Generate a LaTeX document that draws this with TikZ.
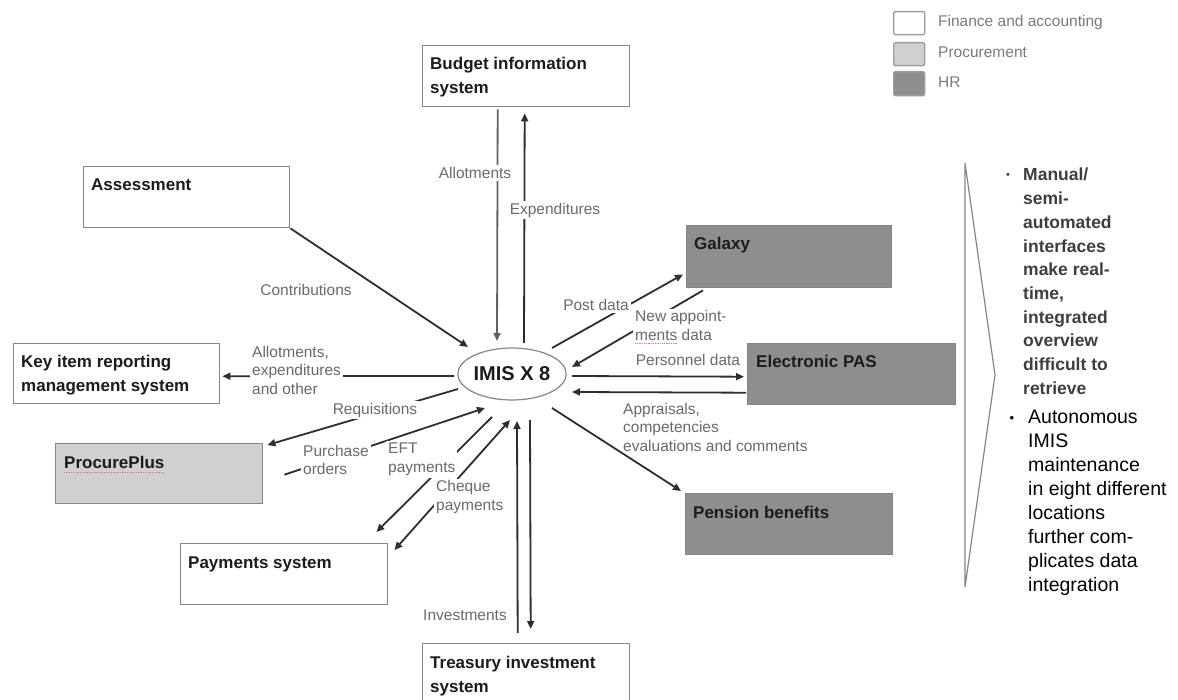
\documentclass[tikz,border=0pt]{standalone}
\usepackage{fontspec}
\setmainfont{Liberation Sans}
\usetikzlibrary{arrows.meta,shapes.geometric,calc}
\definecolor{boxline}{HTML}{858585}
\definecolor{hrgray}{HTML}{8E8E8E}
\definecolor{procgray}{HTML}{D0D0D0}
\definecolor{boxtext}{HTML}{1C1C1C}
\definecolor{labgray}{HTML}{6A6A6A}
\definecolor{arrcol}{HTML}{2E2E2E}
\definecolor{leggray}{HTML}{7A7A7A}
\definecolor{spellred}{HTML}{E07A7A}
\newcommand{\toplines}[1]{\begin{tabular}[t]{@{}l@{}}#1\end{tabular}}
\begin{document}
\begin{tikzpicture}[x=1pt,y=-1pt,
  box/.style={draw=boxline, line width=1.4pt, minimum width=207pt, minimum height=61pt, anchor=north west, inner sep=0pt},
  boxtxt/.style={anchor=base west, inner sep=0pt, font=\fontsize{17}{24}\selectfont\bfseries, text=boxtext},
  elab/.style={fill=white, inner sep=2pt, font=\fontsize{15.5}{18.5}\selectfont, text=labgray, align=left},
  arr/.style={draw=arrcol, line width=1.8pt, -{Triangle[length=8pt,width=7pt]}},
  arrboth/.style={draw=arrcol, line width=1.8pt, {Triangle[length=8pt,width=7pt]}-{Triangle[length=8pt,width=7pt]}},
  legbox/.style={draw=boxline!80, line width=1.4pt, rounded corners=2pt, minimum width=31pt, minimum height=23pt, anchor=north west, inner sep=0pt},
  legtxt/.style={anchor=west, inner sep=0pt, font=\fontsize{15.5}{18}\selectfont, text=leggray}
]
\useasboundingbox (0,0) rectangle (1178,700);
\fill[white] (0,0) rectangle (1178,700);

% legend
\node[legbox, fill=white] (lg1) at (893,11) {};
\node[legbox, fill=procgray] (lg2) at (893,42) {};
\node[legbox, fill=hrgray, minimum height=24pt] (lg3) at (893,71) {};
\node[legtxt] (lg1t) at (938,22) {Finance and accounting};
\node[legtxt] (lg2t) at (938,52) {Procurement};
\node[legtxt] (lg3t) at (938,82) {HR};

% boxes
\node[box, fill=white] (bis) at (422,45) {};
\node[boxtxt] (bist) at ($(bis.north west)+(8,25)$) {\toplines{Budget information\\system}};
\node[box, fill=white, minimum width=206pt] (assess) at (83,166) {};
\node[boxtxt] (assesst) at ($(assess.north west)+(8,25)$) {Assessment};
\node[box, fill=white, minimum width=206pt, minimum height=60pt] (keyitem) at (13,343) {};
\node[boxtxt] (keyitemt) at ($(keyitem.north west)+(8,25)$) {\toplines{Key item reporting\\management system}};
\node[box, fill=procgray, minimum height=60pt] (procure) at (55,443) {};
\node[boxtxt] (procuret) at ($(procure.north west)+(9,25)$) {ProcurePlus};
\node[box, fill=white] (payments) at (180,543) {};
\node[boxtxt] (paymentst) at ($(payments.north west)+(8,25)$) {Payments system};
\node[box, fill=white] (treasury) at (422,643) {};
\node[boxtxt] (treasuryt) at ($(treasury.north west)+(8,25)$) {\toplines{Treasury investment\\system}};
\node[box, fill=hrgray, minimum width=205pt, minimum height=62pt] (galaxy) at (686,225) {};
\node[boxtxt] (galaxyt) at ($(galaxy.north west)+(8,25)$) {Galaxy};
\node[box, fill=hrgray, minimum width=208pt] (epas) at (747,343) {};
\node[boxtxt] (epast) at ($(epas.north west)+(9,25)$) {Electronic PAS};
\node[box, fill=hrgray] (pension) at (685,493) {};
\node[boxtxt] (pensiont) at ($(pension.north west)+(8,25)$) {Pension benefits};

% spell-check underline
\draw[spellred, line width=0.8pt, densely dotted] ($(procuret.base west)+(0,4)$) -- ($(procuret.base east)+(0,4)$);

% central node
\node[draw=boxline, ellipse, line width=1.2pt, minimum width=106pt, minimum height=52pt, inner sep=0pt,
      font=\fontsize{20}{24}\selectfont\bfseries, text=boxtext] (imis) at (512,374) {IMIS X 8};

% connectors
\draw[arr, draw=arrcol!75] ($(bis.south)+(-28.5,2)$) -- ($(imis.center)+(-15,-33)$);
\draw[arr] ($(imis.center)+(12,-31)$) -- ($(bis.south)+(-1.5,6)$);
\draw[arr] (assess.south east) -- ($(imis.center)+(-44,-27)$);
\draw[arr] ($(imis.center)+(-58,2)$) -- ($(keyitem.east)+(2,2.5)$);
\draw[arr] ($(imis.center)+(-54,15)$) -- ($(procure.north east)+(4,2)$);
\draw[arr] ($(procure.east)+(21,1)$) -- ($(imis.center)+(-27,34)$);
\draw[arr] ($(imis.center)+(-20,43)$) -- ($(payments.north east)+(-12,-11)$);
\draw[arrboth] ($(payments.north east)+(6,7)$) -- ($(imis.center)+(-2,46)$);
\draw[arr] ($(treasury.north)+(-8.5,-10)$) -- ($(imis.center)+(5,47)$);
\draw[arr] ($(imis.center)+(18,46)$) -- ($(treasury.north)+(4.5,-14)$);
\draw[arr] ($(imis.center)+(40,-26)$) -- ($(galaxy.south west)+(-3,-14)$);
\draw[arr] ($(galaxy.south west)+(17,2)$) -- ($(imis.center)+(60,-7)$);
\draw[arr] ($(imis.center)+(60,2)$) -- ($(epas.west)+(-3,2.5)$);
\draw[arr] ($(epas.west)+(-1,18.5)$) -- ($(imis.center)+(60,18)$);
\draw[arr] ($(imis.center)+(40,34)$) -- ($(pension.north west)+(-4,-2)$);

% connector labels
\node[elab] (l-allot) at (475,173) {Allotments};
\node[elab] (l-exp) at (555,210) {Expenditures};
\node[elab, fill=none] (l-contr) at (306,290) {Contributions};
\node[elab, anchor=west] (l-aeo) at (250,370) {Allotments,\\expenditures\\and other};
\node[elab] (l-req) at (375,410) {Requisitions};
\node[elab, anchor=west] (l-po) at (301,460) {Purchase\\orders};
\node[elab, anchor=west] (l-eft) at (386,459.5) {EFT\\payments};
\node[elab, anchor=west] (l-chq) at (434,497) {Cheque\\payments};
\node[elab, fill=none] (l-inv) at (465,615) {Investments};
\node[elab] (l-post) at (596,305) {Post data};
\node[elab, anchor=west] (l-newapp) at (633,325.5) {New appoint-\\ments data};
\node[elab] (l-pers) at (688,360) {Personnel data};
\node[elab, anchor=west, fill=none] (l-appr) at (621,427) {Appraisals,\\competencies\\evaluations and comments};
\draw[spellred, line width=0.8pt, densely dotted] (635,343) -- (677,343);

% bracket
\draw[draw=boxline, line width=1.2pt, line join=miter] (965,163) -- (995,375) -- (965,587) -- cycle;

% notes
\node[inner sep=0pt, font=\fontsize{11}{12}\selectfont, text=boxtext!85] (dot1) at (1008,176) {\textbullet};
\node[anchor=base west, inner sep=0pt, font=\fontsize{17.5}{23.67}\selectfont\bfseries, text=boxtext!85] (note1) at (1023,181)
  {\toplines{Manual/\\semi-\\automated\\interfaces\\make real-\\time,\\integrated\\overview\\difficult to\\retrieve}};
\node[inner sep=0pt, font=\fontsize{13}{14}\selectfont, text=black] (dot2) at (1012,419) {\textbullet};
\node[anchor=base west, inner sep=0pt, font=\fontsize{19.5}{24}\selectfont, text=black] (note2) at (1028,424)
  {\toplines{Autonomous\\IMIS\\maintenance\\in eight different\\locations\\further com-\\plicates data\\integration}};
\end{tikzpicture}
\end{document}
